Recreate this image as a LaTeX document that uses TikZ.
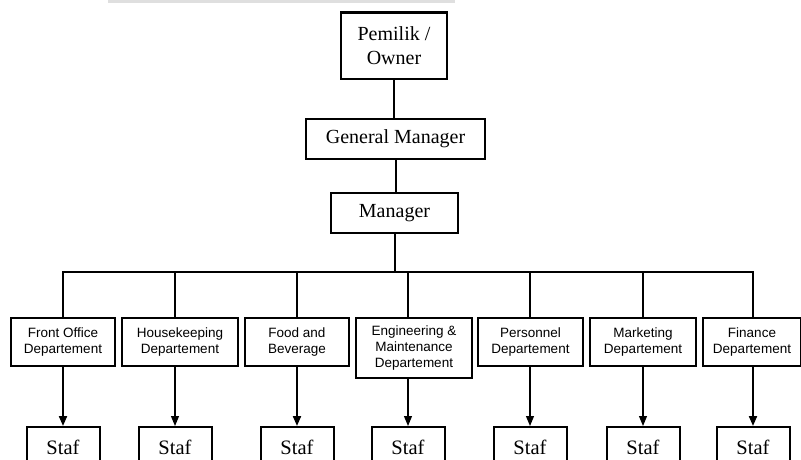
\documentclass[tikz,border=0pt]{standalone}
\usepackage{fontspec}
\setmainfont{Liberation Serif}
\setsansfont{Liberation Sans}
\usetikzlibrary{arrows.meta}

\tikzset{
  box/.style={draw, line width=1.4pt, inner sep=0pt, align=center, font=\fontsize{20}{24}\selectfont},
  deptbox/.style={draw, line width=1.4pt, inner sep=0pt, align=center, minimum height=48pt, font=\sffamily\fontsize{13.5}{16}\selectfont},
  stafbox/.style={draw, line width=2pt, inner sep=0pt, minimum width=73pt, minimum height=40pt, font=\fontsize{20.5}{24}\selectfont},
  main line/.style={line width=2pt},
  side line/.style={line width=1.1pt},
  tip down/.style={-{Triangle[width=8pt,length=10pt]}}
}

\begin{document}
\begin{tikzpicture}[x=1pt,y=-1pt]
\useasboundingbox (0,0) rectangle (801,460);

\fill[gray!25] (108,0) rectangle (455,3);

% top of the chart
\node[box, minimum width=106pt, minimum height=66pt] (owner) at (394,46) {Pemilik /\\Owner};
\draw[line width=2.5pt] (owner.north west) -- (owner.north east);

\node[box, minimum width=179pt, minimum height=40pt] (gm) at (395.5,139) {General Manager};

\node[box, minimum width=127pt, minimum height=40pt] (mgr) at (394.5,213) {Manager};

\coordinate (bus) at (395,272);

% departements
\node[deptbox, minimum width=104pt] (fo) at (63,342) {Front Office\\Departement};
\node[deptbox, minimum width=116pt] (hk) at (180,342) {Housekeeping\\Departement};
\node[deptbox, minimum width=104pt] (fb) at (297,342) {Food and\\Beverage};
\node[deptbox, minimum width=116pt, minimum height=60pt] (eng) at (414,348) {Engineering \&\\Maintenance\\Departement};
\node[deptbox, minimum width=105pt] (per) at (530.5,342) {Personnel\\Departement};
\node[deptbox, minimum width=106pt] (mkt) at (643,342) {Marketing\\Departement};
\node[deptbox, minimum width=98pt] (fin) at (752,342) {Finance\\Departement};

% staf
\node[stafbox] (staf1) at (63,447) {Staf};
\node[stafbox] (staf2) at (175,447) {Staf};
\node[stafbox] (staf3) at (297,447) {Staf};
\node[stafbox] (staf4) at (408,447) {Staf};
\node[stafbox] (staf5) at (530,447) {Staf};
\node[stafbox] (staf6) at (643,447) {Staf};
\node[stafbox] (staf7) at (753,447) {Staf};

% lines
\draw[main line] (owner) -- (owner |- gm.north);
\draw[main line] (gm) -- (gm |- mgr.north);
\draw[main line] (mgr.south) -- (mgr.south |- bus);
\draw[main line] (staf1.north |- fo.north) |- (bus) -| (staf7.north |- fin.north);

\draw[side line] (staf2.north |- hk.north) -- (staf2.north |- bus);
\draw[main line] (staf3.north |- fb.north) -- (staf3.north |- bus);
\draw[side line] (staf4.north |- eng.north) -- (staf4.north |- bus);
\draw[side line] (staf5.north |- per.north) -- (staf5.north |- bus);
\draw[side line] (staf6.north |- mkt.north) -- (staf6.north |- bus);

% arrows down
\draw[main line, tip down] (staf1.north |- fo.south) -- (staf1.north);
\draw[side line, tip down] (staf2.north |- hk.south) -- (staf2.north);
\draw[main line, tip down] (staf3.north |- fb.south) -- (staf3.north);
\draw[side line, tip down] (staf4.north |- eng.south) -- (staf4.north);
\draw[side line, tip down] (staf5.north |- per.south) -- (staf5.north);
\draw[side line, tip down] (staf6.north |- mkt.south) -- (staf6.north);
\draw[main line, tip down] (staf7.north |- fin.south) -- (staf7.north);

\end{tikzpicture}
\end{document}
